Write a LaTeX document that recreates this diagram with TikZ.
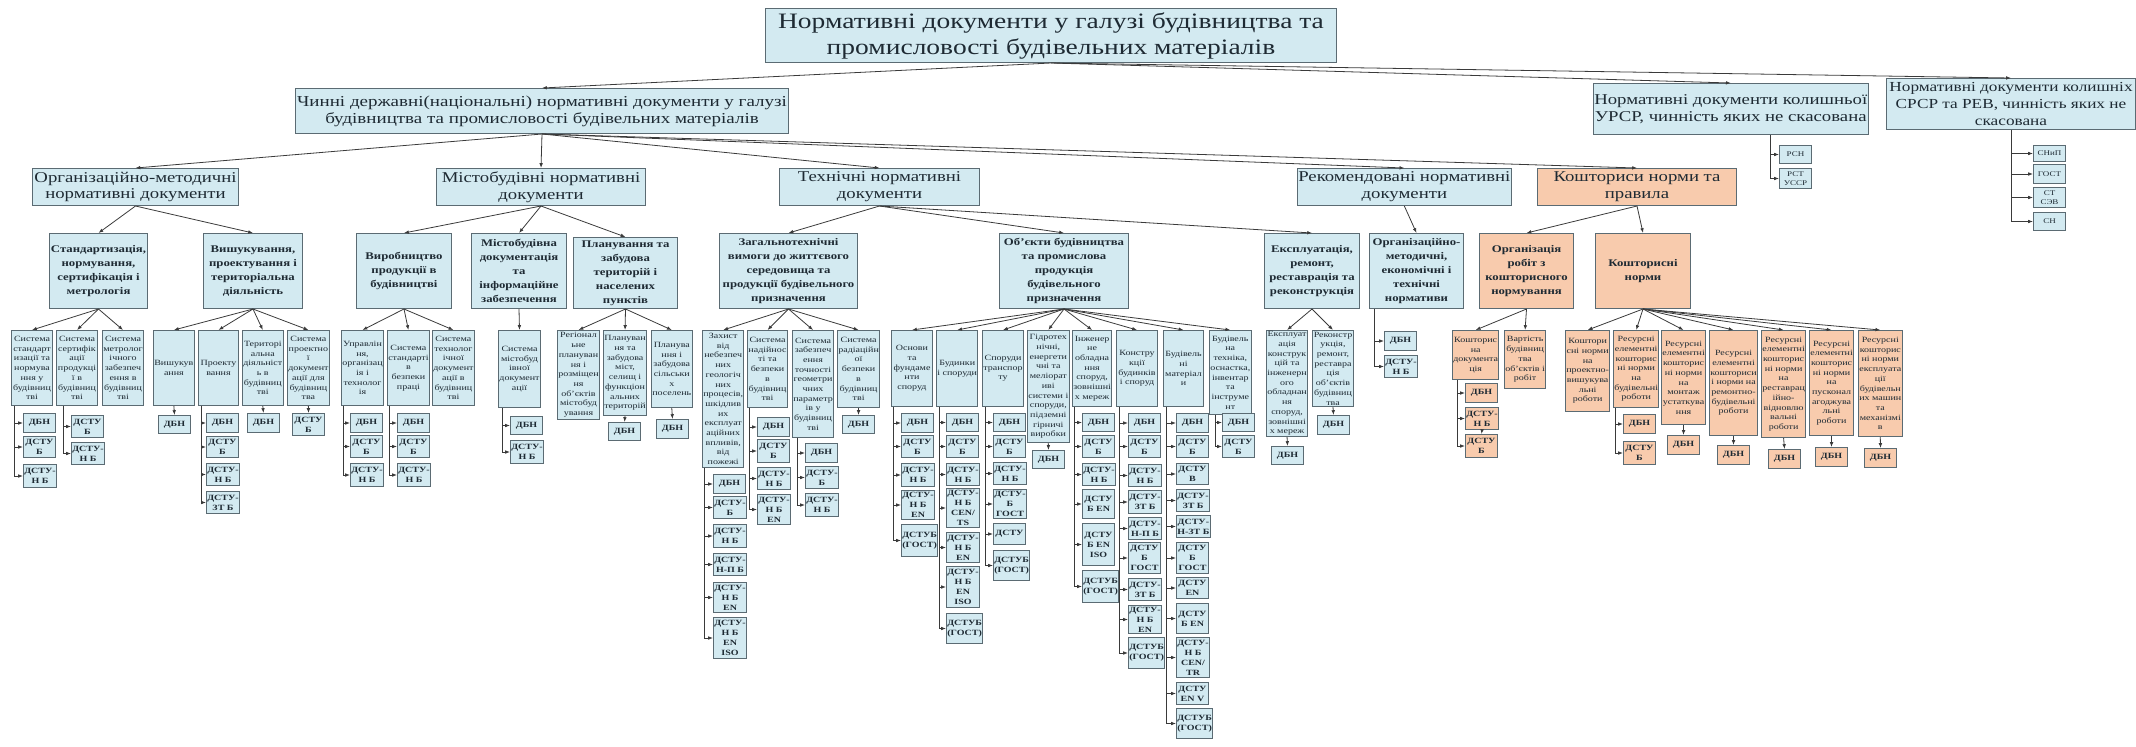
\documentclass[tikz,border=0pt]{standalone}
\usepackage{fontspec}
\setmainfont{Liberation Serif}[FakeStretch=1.25]
\usetikzlibrary{arrows.meta}

\definecolor{boxblue}{HTML}{D3EAF1}
\definecolor{boxpeach}{HTML}{F8CBAD}
\definecolor{boxline}{HTML}{5B6B73}
\definecolor{wire}{HTML}{3A3A3A}
\definecolor{ink}{HTML}{1E2A33}

\begin{document}
\begin{tikzpicture}[x=0.5pt,y=-0.5pt,
  sz/.style 2 args={minimum width=#1*0.5pt,minimum height=#2*0.5pt},
  box/.style={draw=boxline,fill=boxblue,line width=0.5pt,anchor=north west,align=center,inner sep=0.4pt,text=ink},
  cost/.style={fill=boxpeach},
  headbox/.style={box,font=\fontsize{11}{13}\selectfont},
  topbox/.style={box,font=\fontsize{7.5}{8.4}\selectfont},
  secbox/.style={box,font=\bfseries\fontsize{5.1}{7}\selectfont},
  subbox/.style={box,font=\fontsize{4}{4.85}\selectfont},
  doc/.style={box,font=\bfseries\fontsize{4}{5}\selectfont},
  olddoc/.style={box,font=\fontsize{3.6}{4.3}\selectfont},
  conn/.style={draw=wire,line width=0.4pt,-{Latex[length=2.4pt,width=1.8pt]}}]
\useasboundingbox (0,0) rectangle (2136,746);

% Title and first level
\node[headbox,sz={571}{54}] (title) at (765,8) {Нормативні  документи у галузі будівництва та\\промисловості будівельних матеріалів};
\node[topbox,font=\fontsize{7.6}{8.6}\selectfont,sz={493}{45}] (chinni) at (295,88) {Чинні державні(національні) нормативні  документи у галузі\\будівництва та промисловості будівельних матеріалів};
\node[topbox,font=\fontsize{7.5}{8.7}\selectfont,sz={258}{51}] (urcr) at (1593,83) {Нормативні документи колишньої\\УРСР, чинність яких не скасована};
\node[topbox,font=\fontsize{6.9}{8.4}\selectfont,sz={249}{51}] (srsr) at (1886,78) {Нормативні документи колишніх\\СРСР та РЕВ, чинність яких не\\скасована};
\foreach \t in {chinni,urcr,srsr}
  \draw[conn] (title.south) -- (\t.north);

% Old documents
\foreach \n/\y/\h/\t in {a/145/18/РСН, b/168/20/{РСТ\\УССР}}{
  \node[olddoc,sz={32}{\h}] (urcr\n) at (1779,\y) {\t};
  \draw[conn] ([xshift=20pt]urcr.south) |- (urcr\n.west);
}
\foreach \n/\y/\h/\t in {a/145/16/СНиП, b/164/19/ГОСТ, c/187/20/{СТ\\СЭВ}, d/212/18/СН}{
  \node[olddoc,sz={32}{\h}] (srsr\n) at (2033,\y) {\t};
  \draw[conn] (srsr.south) |- (srsr\n.west);
}

% Second level
\node[topbox,sz={206}{37}] (org) at (32,168) {Організаційно-методичні\\нормативні документи};
\node[topbox,sz={209}{37}] (misto) at (436,168) {Містобудівні нормативні\\документи};
\node[topbox,sz={200}{37}] (tekh) at (779,168) {Технічні нормативні\\документи};
\node[topbox,sz={207}{37}] (rekom) at (1297,168) {Рекомендовані нормативні\\документи};
\node[topbox,cost,sz={199}{37}] (koshtor) at (1537,168) {Кошториси норми та\\правила};
\foreach \t in {org,misto,tekh,rekom,koshtor}
  \draw[conn] (chinni.south) -- (\t.north);

% Third level
\node[secbox,sz={98}{75}] (standart) at (49,233) {Стандартизація,\\нормування,\\сертифікація і\\метрологія};
\node[secbox,sz={99}{75}] (vyshuk) at (203,233) {Вишукування,\\проектування і\\територіальна\\діяльність};
\node[secbox,sz={95}{75}] (vyrob) at (356,233) {Виробництво\\продукції в\\будівництві};
\node[secbox,sz={95}{75}] (mistodok) at (471,233) {Містобудівна\\документація\\та\\інформаційне\\забезпечення};
\node[secbox,sz={104}{71}] (planuv) at (573,237) {Планування та\\забудова\\територій і\\населених\\пунктів};
\node[secbox,sz={138}{75}] (zahal) at (719,233) {Загальнотехнічні\\вимоги до життєвого\\середовища та\\продукції будівельного\\призначення};
\node[secbox,sz={129}{75}] (obyekt) at (999,233) {Об'єкти будівництва\\та промислова\\продукція\\будівельного\\призначення};
\node[secbox,sz={95}{75}] (ekspl) at (1264,233) {Експлуатація,\\ремонт,\\реставрація та\\реконструкція};
\node[secbox,sz={94}{75}] (orgmet) at (1369,233) {Організаційно-\\методичні,\\економічні і\\технічні\\нормативи};
\node[secbox,cost,sz={94}{75}] (orgrob) at (1479,233) {Організація\\робіт з\\кошторисного\\нормування};
\node[secbox,cost,sz={95}{75}] (koshnorm) at (1595,233) {Кошторисні\\норми};
\foreach \a/\b in {org/standart, org/vyshuk, misto/vyrob, misto/mistodok, misto/planuv,
    tekh/zahal, tekh/obyekt, tekh/ekspl, rekom/orgmet, koshtor/orgrob, koshtor/koshnorm}
  \draw[conn] (\a.south) -- (\b.north);

% Fourth level: organisational
\node[subbox,sz={41}{75}] (s11) at (11,330) {Система\\стандарт\\изації та\\нормува\\ння у\\будівниц\\тві};
\node[subbox,sz={41}{75}] (s12) at (56,330) {Система\\сертифік\\ації\\продукці\\ї в\\будівниц\\тві};
\node[subbox,sz={41}{75}] (s13) at (102,330) {Система\\метролог\\ічного\\забезпеч\\ення в\\будівниц\\тві};
\node[subbox,sz={40}{75}] (s21) at (153,330) {Вишукув\\ання};
\node[subbox,sz={40}{75}] (s22) at (198,330) {Проекту\\вання};
\node[subbox,sz={40}{75}] (s23) at (242,330) {Територі\\альна\\діяльніст\\ь в\\будівниц\\тві};
\node[subbox,sz={40}{75}] (s24) at (287,330) {Система\\проектно\\ї\\документ\\ації для\\будівниц\\тва};
\foreach \b in {s11,s12,s13} \draw[conn] (standart.south) -- (\b.north);
\foreach \b in {s21,s22,s23,s24} \draw[conn] (vyshuk.south) -- (\b.north);

% Fourth level: town planning
\node[subbox,sz={41}{75}] (s31) at (341,330) {Управлін\\ня,\\організац\\ія і\\технолог\\ія};
\node[subbox,sz={40}{75}] (s32) at (387,330) {Система\\стандарті\\в\\безпеки\\праці};
\node[subbox,sz={41}{75}] (s33) at (432,330) {Система\\технолог\\ічної\\документ\\ації в\\будівниц\\тві};
\node[subbox,sz={42}{77}] (s41) at (498,330) {Система\\містобуд\\івної\\документ\\ації};
\node[subbox,sz={40}{89}] (s51) at (557,330) {Регіонал\\ьне\\плануван\\ня і\\розміщен\\ня\\об'єктів\\містобуд\\ування};
\node[subbox,sz={43}{85}] (s52) at (603,330) {Плануван\\ня та\\забудова\\міст,\\селищ і\\функціон\\альних\\територій};
\node[subbox,sz={39}{77}] (s53) at (651,330) {Планува\\ння і\\забудова\\сільськи\\х\\поселень};
\foreach \b in {s31,s32,s33} \draw[conn] (vyrob.south) -- (\b.north);
\draw[conn] (mistodok.south) -- (s41.north);
\foreach \b in {s51,s52,s53} \draw[conn] (planuv.south) -- (\b.north);

% Fourth level: technical
\node[subbox,sz={41}{137}] (t11) at (702,330) {Захист\\від\\небезпеч\\них\\геологіч\\них\\процесів,\\шкідлив\\их\\експлуат\\аційних\\впливів,\\від\\пожежі};
\node[subbox,sz={40}{77}] (t12) at (747,330) {Система\\надійнос\\ті та\\безпеки\\в\\будівниц\\тві};
\node[subbox,sz={40}{107}] (t13) at (792,330) {Система\\забезпеч\\ення\\точності\\геометри\\чних\\параметр\\ів у\\будівниц\\тві};
\node[subbox,sz={40}{77}] (t14) at (837,330) {Система\\радіаційн\\ої\\безпеки\\в\\будівниц\\тві};
\node[subbox,sz={41}{76}] (t21) at (891,330) {Основи\\та\\фундаме\\нти\\споруд};
\node[subbox,sz={41}{76}] (t22) at (936,330) {Будинки\\і споруди};
\node[subbox,sz={41}{76}] (t23) at (982,330) {Споруди\\транспор\\ту};
\node[subbox,sz={40}{112}] (t24) at (1027,330) {Гідротех\\нічні,\\енергети\\чні та\\меліорат\\иві\\системи і\\споруди,\\підземні\\гірничі\\виробки};
\node[subbox,sz={39}{76}] (t25) at (1072,330) {Інженер\\не\\обладна\\ння\\споруд,\\зовнішні\\х мереж};
\node[subbox,sz={41}{76}] (t26) at (1116,330) {Констру\\кції\\будинків\\і споруд};
\node[subbox,sz={40}{76}] (t27) at (1163,330) {Будівель\\ні\\матеріал\\и};
\node[subbox,sz={40}{84}] (t28) at (1209,330) {Будівель\\на\\техніка,\\оснастка,\\інвентар\\та\\інструме\\нт};
\node[subbox,sz={41}{106}] (t31) at (1266,330) {Експлуат\\ація\\конструк\\цій та\\інженерн\\ого\\обладнан\\ня\\споруд,\\зовнішні\\х мереж};
\node[subbox,sz={41}{76}] (t32) at (1312,330) {Реконстр\\укція,\\ремонт,\\реставра\\ція\\об'єктів\\будівниц\\тва};
\foreach \b in {t11,t12,t13,t14} \draw[conn] (zahal.south) -- (\b.north);
\foreach \b in {t21,t22,t23,t24,t25,t26,t27,t28} \draw[conn] (obyekt.south) -- (\b.north);
\foreach \b in {t31,t32} \draw[conn] (ekspl.south) -- (\b.north);

% Fourth level: estimates
\node[subbox,cost,sz={45}{49}] (k11) at (1452,330) {Кошторис\\на\\документа\\ція};
\node[subbox,cost,sz={41}{58}] (k12) at (1504,330) {Вартість\\будівниц\\тва\\об'єктів і\\робіт};
\node[subbox,cost,sz={42}{81}] (k21) at (1565,330) {Коштори\\сні норми\\на\\проектно-\\вишукува\\льні\\роботи};
\node[subbox,cost,sz={45}{77}] (k22) at (1613,330) {Ресурсні\\елементні\\кошторис\\ні норми\\на\\будівельні\\роботи};
\node[subbox,cost,sz={43}{94}] (k23) at (1661,330) {Ресурсні\\елементні\\кошторис\\ні норми\\на\\монтаж\\устаткува\\ння};
\node[subbox,cost,sz={48}{105}] (k24) at (1709,330) {Ресурсні\\елементні\\кошториси\\і норми на\\ремонтно-\\будівельні\\роботи};
\node[subbox,cost,sz={44}{107}] (k25) at (1761,330) {Ресурсні\\елементні\\кошторис\\ні норми\\на\\реставрац\\ійно-\\відновлю\\вальні\\роботи};
\node[subbox,cost,sz={44}{105}] (k26) at (1809,330) {Ресурсні\\елементні\\кошторис\\ні норми\\на\\пусконал\\агоджува\\льні\\роботи};
\node[subbox,cost,sz={43}{106}] (k27) at (1858,330) {Ресурсні\\кошторис\\ні норми\\експлуата\\ції\\будівельн\\их машин\\та\\механізмі\\в};
\foreach \b in {k11,k12} \draw[conn] (orgrob.south) -- (\b.north);
\foreach \b in {k21,k22,k23,k24,k25,k26,k27} \draw[conn] (koshnorm.south) -- (\b.north);

% Document stacks (tree lines)
\foreach \n/\y/\h/\t in {a/413/19/ДБН, b/436/21/{ДСТУ\\Б}, c/464/23/{ДСТУ-\\Н Б}}{
  \node[doc,sz={32}{\h}] (s11\n) at (23,\y) {\t};
  \draw[conn] ([xshift=1.5pt]s11.south west) |- (s11\n.west);
}
\foreach \n/\y/\h/\t in {a/415/22/{ДСТУ\\Б}, b/442/22/{ДСТУ-\\Н Б}}{
  \node[doc,sz={32}{\h}] (s12\n) at (71,\y) {\t};
  \draw[conn] ([xshift=3.5pt]s12.south west) |- (s12\n.west);
}
\foreach \n/\y/\h/\t in {a/413/19/ДБН, b/436/21/{ДСТУ\\Б}, c/463/22/{ДСТУ-\\Н Б}, d/491/22/{ДСТУ-\\ЗТ Б}}{
  \node[doc,sz={32}{\h}] (s22\n) at (206,\y) {\t};
  \draw[conn] ([xshift=1.5pt]s22.south west) |- (s22\n.west);
}
\foreach \p/\x in {s31/350, s32/397}{
  \foreach \n/\y/\h/\t in {a/413/19/ДБН, b/435/22/{ДСТУ\\Б}, c/463/23/{ДСТУ-\\Н Б}}{
    \node[doc,sz={32}{\h}] (\p\n) at (\x,\y) {\t};
    \draw[conn] ([xshift=1.2pt]\p.south west) |- (\p\n.west);
  }
}
\foreach \n/\y/\h/\t in {a/416/18/ДБН, b/440/23/{ДСТУ-\\Н Б}}{
  \node[doc,sz={32}{\h}] (s41\n) at (510,\y) {\t};
  \draw[conn] ([xshift=2pt]s41.south west) |- (s41\n.west);
}
\foreach \n/\y/\h/\t in {a/474/19/ДБН, b/496/22/{ДСТУ-\\Б}, c/524/23/{ДСТУ-\\Н Б}, d/553/22/{ДСТУ-\\Н-П Б},
    e/582/30/{ДСТУ-\\Н Б\\EN}, f/617/41/{ДСТУ-\\Н Б\\EN\\ISO}}{
  \node[doc,sz={32}{\h}] (t11\n) at (713,\y) {\t};
  \draw[conn] ([xshift=1.2pt]t11.south west) |- (t11\n.west);
}
\foreach \n/\y/\h/\t in {a/417/19/ДБН, b/439/23/{ДСТУ\\Б}, c/467/22/{ДСТУ-\\Н Б}, d/494/30/{ДСТУ-\\Н Б\\EN}}{
  \node[doc,sz={32}{\h}] (t12\n) at (757,\y) {\t};
  \draw[conn] ([xshift=1.2pt]t12.south west) |- (t12\n.west);
}
\foreach \n/\y/\h/\t in {a/443/19/ДБН, b/466/22/{ДСТУ-\\Б}, c/493/23/{ДСТУ-\\Н Б}}{
  \node[doc,sz={32}{\h}] (t13\n) at (805,\y) {\t};
  \draw[conn] ([xshift=2.5pt]t13.south west) |- (t13\n.west);
}
\foreach \n/\y/\h/\t in {a/413/19/ДБН, b/435/22/{ДСТУ\\Б}, c/463/23/{ДСТУ-\\Н Б}, d/490/29/{ДСТУ-\\Н Б\\EN},
    e/524/32/{ДСТУБ\\(ГОСТ)}}{
  \node[doc,sz={32}{\h}] (t21\n) at (901,\y) {\t};
  \draw[conn] ([xshift=1.2pt]t21.south west) |- (t21\n.west);
}
\foreach \n/\y/\h/\t in {a/413/18/ДБН, b/435/22/{ДСТУ\\Б}, c/463/22/{ДСТУ-\\Н Б}, d/488/39/{ДСТУ-\\Н Б\\CEN/\\TS},
    e/532/30/{ДСТУ-\\Н Б\\EN}, f/566/41/{ДСТУ-\\Н Б\\EN\\ISO}, g/613/30/{ДСТУБ\\(ГОСТ)}}{
  \node[doc,sz={32}{\h}] (t22\n) at (946,\y) {\t};
  \draw[conn] ([xshift=1.5pt]t22.south west) |- (t22\n.west);
}
\foreach \n/\y/\h/\t in {a/413/18/ДБН, b/435/22/{ДСТУ\\Б}, c/462/22/{ДСТУ-\\Н Б}, d/489/29/{ДСТУ-\\Б\\ГОСТ},
    e/523/21/ДСТУ, f/550/30/{ДСТУБ\\(ГОСТ)}}{
  \node[doc,sz={32}{\h}] (t23\n) at (993,\y) {\t};
  \draw[conn] ([xshift=1.5pt]t23.south west) |- (t23\n.west);
}
\foreach \n/\y/\h/\t in {a/413/18/ДБН, b/435/22/{ДСТУ\\Б}, c/463/22/{ДСТУ-\\Н Б}, d/489/29/{ДСТУ\\Б EN},
    e/523/42/{ДСТУ\\Б EN\\ISO}, f/570/32/{ДСТУБ\\(ГОСТ)}}{
  \node[doc,sz={32}{\h}] (t25\n) at (1082,\y) {\t};
  \draw[conn] ([xshift=1.2pt]t25.south west) |- (t25\n.west);
}
\foreach \n/\y/\h/\t in {a/413/19/ДБН, b/435/22/{ДСТУ\\Б}, c/464/22/{ДСТУ-\\Н Б}, d/490/23/{ДСТУ-\\ЗТ Б},
    e/517/22/{ДСТУ-\\Н-П Б}, f/542/31/{ДСТУ\\Б\\ГОСТ}, g/578/22/{ДСТУ-\\ЗТ Б}, h/605/28/{ДСТУ-\\Н Б\\EN},
    i/637/31/{ДСТУБ\\(ГОСТ)}}{
  \node[doc,sz={32}{\h}] (t26\n) at (1128,\y) {\t};
  \draw[conn] ([xshift=1.5pt]t26.south west) |- (t26\n.west);
}
\foreach \n/\y/\h/\t in {a/413/19/ДБН, b/435/22/{ДСТУ\\Б}, c/463/21/{ДСТУ\\В}, d/489/22/{ДСТУ-\\ЗТ Б},
    e/515/22/{ДСТУ-\\Н-ЗТ Б}, f/542/31/{ДСТУ\\Б\\ГОСТ}, g/577/21/{ДСТУ\\EN}, h/603/30/{ДСТУ\\Б EN},
    i/637/40/{ДСТУ-\\Н Б\\CEN/\\TR}, j/682/22/{ДСТУ\\EN V}, k/708/30/{ДСТУБ\\(ГОСТ)}}{
  \node[doc,sz={32}{\h}] (t27\n) at (1176,\y) {\t};
  \draw[conn] ([xshift=1.5pt]t27.south west) |- (t27\n.west);
}
\foreach \n/\y/\h/\t in {a/413/18/ДБН, b/435/22/{ДСТУ\\Б}}{
  \node[doc,sz={32}{\h}] (t28\n) at (1222,\y) {\t};
  \draw[conn] ([xshift=3pt]t28.south west) |- (t28\n.west);
}
\foreach \n/\y/\h/\t in {a/331/19/ДБН, b/355/22/{ДСТУ-\\Н Б}}{
  \node[doc,sz={32}{\h}] (orgmet\n) at (1384,\y) {\t};
  \draw[conn] ([xshift=2.5pt]orgmet.south west) |- (orgmet\n.west);
}
\foreach \n/\y/\h/\t in {a/383/19/ДБН, b/407/22/{ДСТУ-\\Н Б}, c/434/23/{ДСТУ\\Б}}{
  \node[doc,cost,sz={32}{\h}] (k11\n) at (1465,\y) {\t};
  \draw[conn] ([xshift=2.5pt]k11.south west) |- (k11\n.west);
}
\draw[conn] (k11b.south) -- (k11c.north);
\foreach \n/\y/\h/\t in {a/414/19/ДБН, b/441/23/{ДСТУ\\Б}}{
  \node[doc,cost,sz={32}{\h}] (k22\n) at (1623,\y) {\t};
  \draw[conn] ([xshift=1.2pt]k22.south west) |- (k22\n.west);
}

% Single documents
\foreach \p/\x/\y/\h/\t in {s21/158/415/18/ДБН, s23/247/413/19/ДБН, s24/292/413/22/{ДСТУ\\Б},
    s52/608/422/18/ДБН, s53/656/419/19/ДБН, t14/842/415/18/ДБН, t24/1032/450/18/ДБН,
    t31/1271/446/18/ДБН, t32/1317/415/19/ДБН}{
  \node[doc,sz={32}{\h}] (\p d) at (\x,\y) {\t};
  \draw[conn] (\p.south) -- (\p d.north);
}
\foreach \p/\x/\y in {k23/1667/435, k24/1717/445, k25/1768/449, k26/1815/447, k27/1864/448}{
  \node[doc,cost,sz={32}{19}] (\p d) at (\x,\y) {ДБН};
  \draw[conn] (\p.south) -- (\p d.north);
}
\end{tikzpicture}
\end{document}
